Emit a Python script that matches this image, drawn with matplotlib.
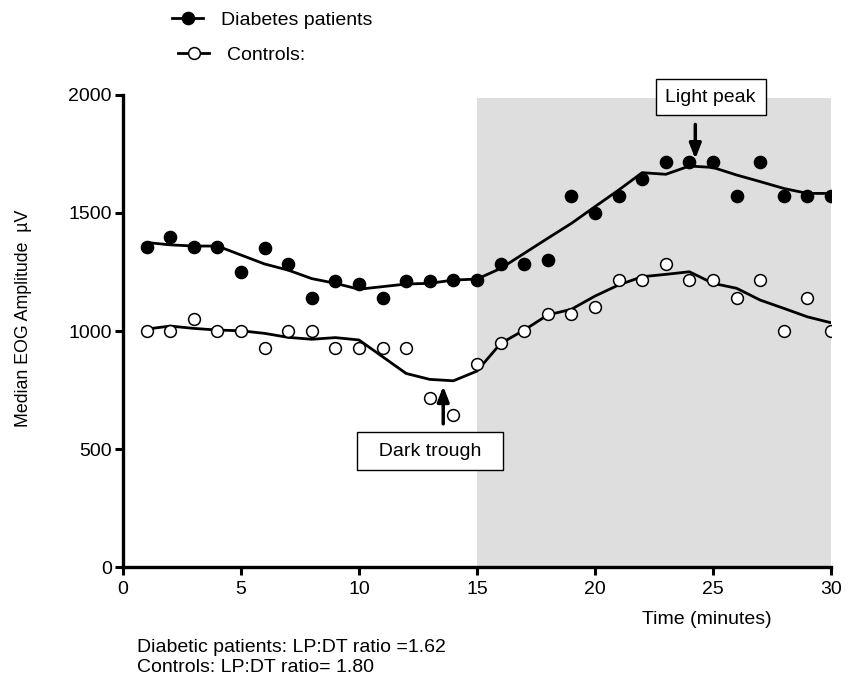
import matplotlib
matplotlib.use("Agg")
import matplotlib.pyplot as plt
from matplotlib.lines import Line2D

plt.rcParams["font.family"] = ["Liberation Sans", "DejaVu Sans"]

# minutes
time = list(range(1, 31))

# measured medians (markers)
diabetes = [1357, 1400, 1357, 1357, 1250, 1350, 1285, 1140, 1210, 1200,
            1140, 1210, 1210, 1215, 1215, 1285, 1285, 1300, 1570, 1500,
            1570, 1645, 1715, 1715, 1715, 1570, 1715, 1570, 1570, 1570]
controls = [1000, 1000, 1050, 1000, 1000, 930, 1000, 1000, 930, 930,
            930, 930, 715, 645, 860, 950, 1000, 1070, 1070, 1100,
            1215, 1215, 1285, 1215, 1215, 1140, 1215, 1000, 1140, 1000]

# smoothed curves
diabetes_fit = [1375, 1365, 1360, 1360, 1322, 1284, 1258, 1222, 1202, 1177,
                1188, 1199, 1202, 1216, 1220, 1265, 1329, 1393, 1456, 1527,
                1597, 1671, 1664, 1699, 1693, 1661, 1633, 1604, 1583, 1583]
controls_fit = [1008, 1021, 1011, 1004, 1001, 990, 973, 965, 972, 962,
                891, 820, 795, 789, 830, 947, 1004, 1068, 1092, 1148,
                1195, 1230, 1240, 1251, 1202, 1181, 1131, 1096, 1060, 1035]

light_start, light_end, light_top = 15, 30, 1986

fig = plt.figure(figsize=(8.51, 6.81), dpi=100)
ax = fig.add_axes([0.1445, 0.1674, 0.832, 0.6931])

ax.fill_between([light_start, light_end], 0, light_top, color="#dedede", lw=0, zorder=0)

ax.plot(time, diabetes_fit, color="black", lw=2, zorder=2)
ax.plot(time, controls_fit, color="black", lw=2, zorder=2)
ax.plot(time, diabetes, "o", color="black", ms=8.8, zorder=3)
ax.plot(time, controls, "o", mfc="white", mec="black", mew=1.1, ms=8.5, zorder=3)

ax.set_xlim(0, 30)
ax.set_ylim(0, 2000)
ax.set_xticks(range(0, 31, 5))
ax.set_yticks(range(0, 2001, 500))
for s in ["top", "right"]:
    ax.spines[s].set_visible(False)
for s in ["left", "bottom"]:
    ax.spines[s].set_linewidth(2.4)
ax.tick_params(direction="out", length=6, width=2.2, labelsize=14)
ax.tick_params(axis="y", pad=2)
ax.tick_params(axis="x", pad=4)
ax.set_ylabel("Median EOG Amplitude  \u00b5V", fontsize=12.8)
ax.yaxis.set_label_coords(-0.128, 0.527)

# annotations
arrow = dict(arrowstyle="-|>,head_width=0.35,head_length=0.9", color="black", lw=2.5)
ax.annotate("", xy=(24.25, 1717), xytext=(24.25, 1887), arrowprops=arrow, zorder=4)
ax.text(24.9, 1991, "Light peak", ha="center", va="center", fontsize=14,
        bbox=dict(boxstyle="square,pad=0.5", fc="white", ec="black", lw=1),
        zorder=5, clip_on=False)
ax.annotate("", xy=(13.57, 778), xytext=(13.57, 595), arrowprops=arrow, zorder=4)
ax.text(13.0, 491, "  Dark trough  ", ha="center", va="center", fontsize=14,
        bbox=dict(boxstyle="square,pad=0.55", fc="white", ec="black", lw=1),
        zorder=5)

fig.text(707 / 851, 1 - 619 / 681, "Time (minutes)", ha="center", va="center", fontsize=14)
fig.text(137 / 851, 1 - 648 / 681, "Diabetic patients: LP:DT ratio =1.62", ha="left", va="center", fontsize=14)
fig.text(137 / 851, 1 - 668 / 681, "Controls: LP:DT ratio= 1.80", ha="left", va="center", fontsize=14)

# legend, one entry per box so each sits where the original has it
h_diab = Line2D([], [], color="black", lw=2, marker="o", ms=8.8)
h_ctrl = Line2D([], [], color="black", lw=2, marker="o", mfc="white", mec="black", mew=1.1, ms=8.5)
fig.legend([h_diab], ["Diabetes patients"], loc="center left",
           bbox_to_anchor=(172 / 851, 1 - 20 / 681), frameon=False, fontsize=14,
           handlelength=1.6, handletextpad=0.9, borderpad=0, borderaxespad=0)
fig.legend([h_ctrl], ["Controls:"], loc="center left",
           bbox_to_anchor=(178 / 851, 1 - 55 / 681), frameon=False, fontsize=14,
           handlelength=1.6, handletextpad=0.9, borderpad=0, borderaxespad=0)

fig.savefig("out.png", dpi=100)
